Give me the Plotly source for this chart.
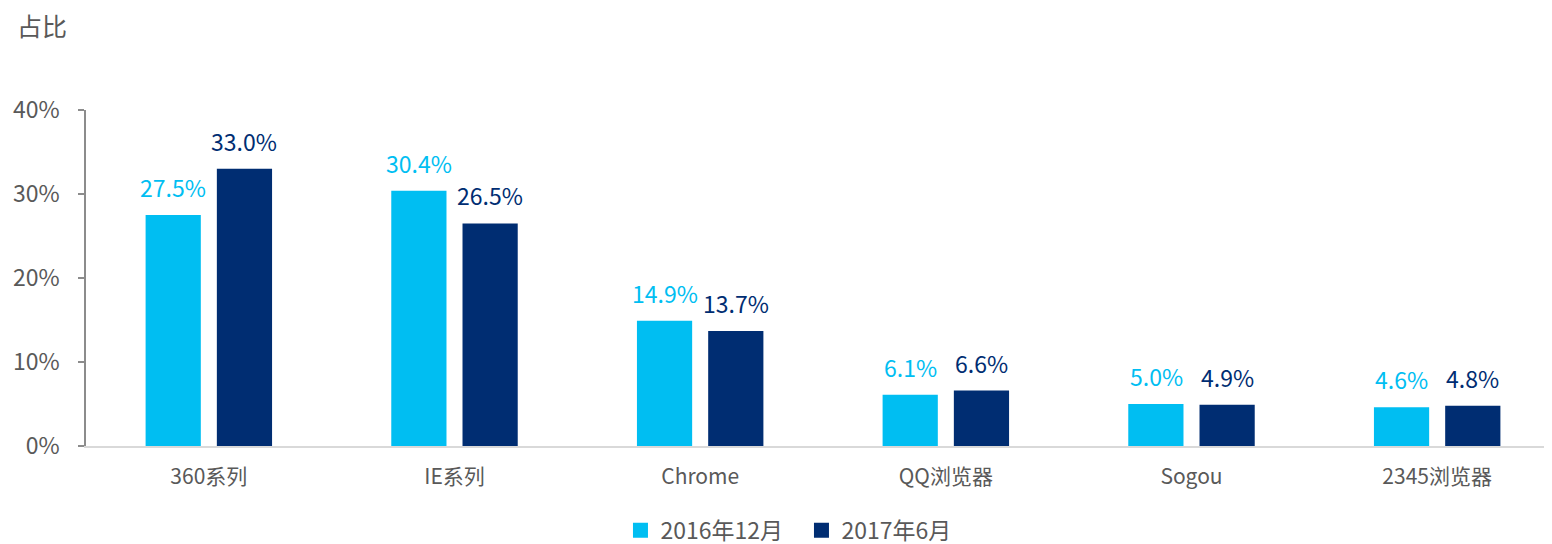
import plotly.graph_objects as go

categories = ["360系列", "IE系列", "Chrome", "QQ浏览器", "Sogou", "2345浏览器"]
series_names = ["2016年12月", "2017年6月"]
values_2016_12 = [27.5, 30.4, 14.9, 6.1, 5.0, 4.6]
values_2017_06 = [33.0, 26.5, 13.7, 6.6, 4.9, 4.8]
y_ticks = [0, 10, 20, 30, 40]
y_tick_labels = ["0%", "10%", "20%", "30%", "40%"]

colors = ["#00BEF2", "#002D72"]
FONT = "Noto Sans CJK SC, Microsoft YaHei, sans-serif"
GRAY = "#595959"

fig = go.Figure()
for name, vals, col in zip(series_names, [values_2016_12, values_2017_06], colors):
    fig.add_trace(go.Bar(
        x=categories, y=vals, name=name,
        marker=dict(color=col, line=dict(width=0)),
        hoverinfo="x+y", showlegend=False,
    ))
# legend entries with larger square markers
for name, col in zip(series_names, colors):
    fig.add_trace(go.Scatter(
        x=[None], y=[None], mode="markers", name=name,
        marker=dict(symbol="square", size=15, color=col),
    ))

# data labels as annotations above bars
offsets = [-35.5, 35.5]
annotations = []
for vals, col, off in zip([values_2016_12, values_2017_06], colors, offsets):
    for c, v in zip(categories, vals):
        annotations.append(dict(
            x=c, y=v, xref="x", yref="y", text=f"{v:.1f}%",
            showarrow=False, xshift=off, yshift=9, yanchor="bottom",
            font=dict(family=FONT, size=23, color=col),
        ))

annotations.append(dict(
    x=0, y=1, xref="paper", yref="paper", xanchor="left", yanchor="middle",
    text="占比", showarrow=False, xshift=-71, yshift=85,
    font=dict(family=FONT, size=25, color=GRAY),
))

fig.update_layout(
    width=1552, height=544,
    margin=dict(l=78, r=0, t=102, b=106),
    plot_bgcolor="white", paper_bgcolor="white",
    barmode="group", bargap=0.42, bargroupgap=0.225,
    font=dict(family=FONT, color=GRAY),
    annotations=annotations,
    showlegend=True,
    legend=dict(
        orientation="h", x=0.3626, xanchor="left",
        yref="container", y=0.04, yanchor="middle",
        font=dict(family=FONT, size=23, color=GRAY),
        itemwidth=30, tracegroupgap=0, entrywidth=136, entrywidthmode="pixels",
    ),
    xaxis=dict(
        range=[-0.5, 5.5], automargin=False,
        showline=True, linecolor="#D9D9D9", linewidth=2,
        ticks="", showgrid=False, zeroline=False,
        tickfont=dict(family=FONT, size=21, color=GRAY),
        ticklabelstandoff=11,
    ),
    yaxis=dict(
        range=[0, 40], tickvals=y_ticks, ticktext=y_tick_labels, automargin=False,
        showline=True, linecolor="#8C8C8C", linewidth=1.5,
        ticks="outside", ticklen=6, tickcolor="#8C8C8C", tickwidth=1.5,
        showgrid=False, zeroline=False,
        tickfont=dict(family=FONT, size=23, color=GRAY),
        ticklabelstandoff=14,
    ),
)

fig.write_html("out.html")
